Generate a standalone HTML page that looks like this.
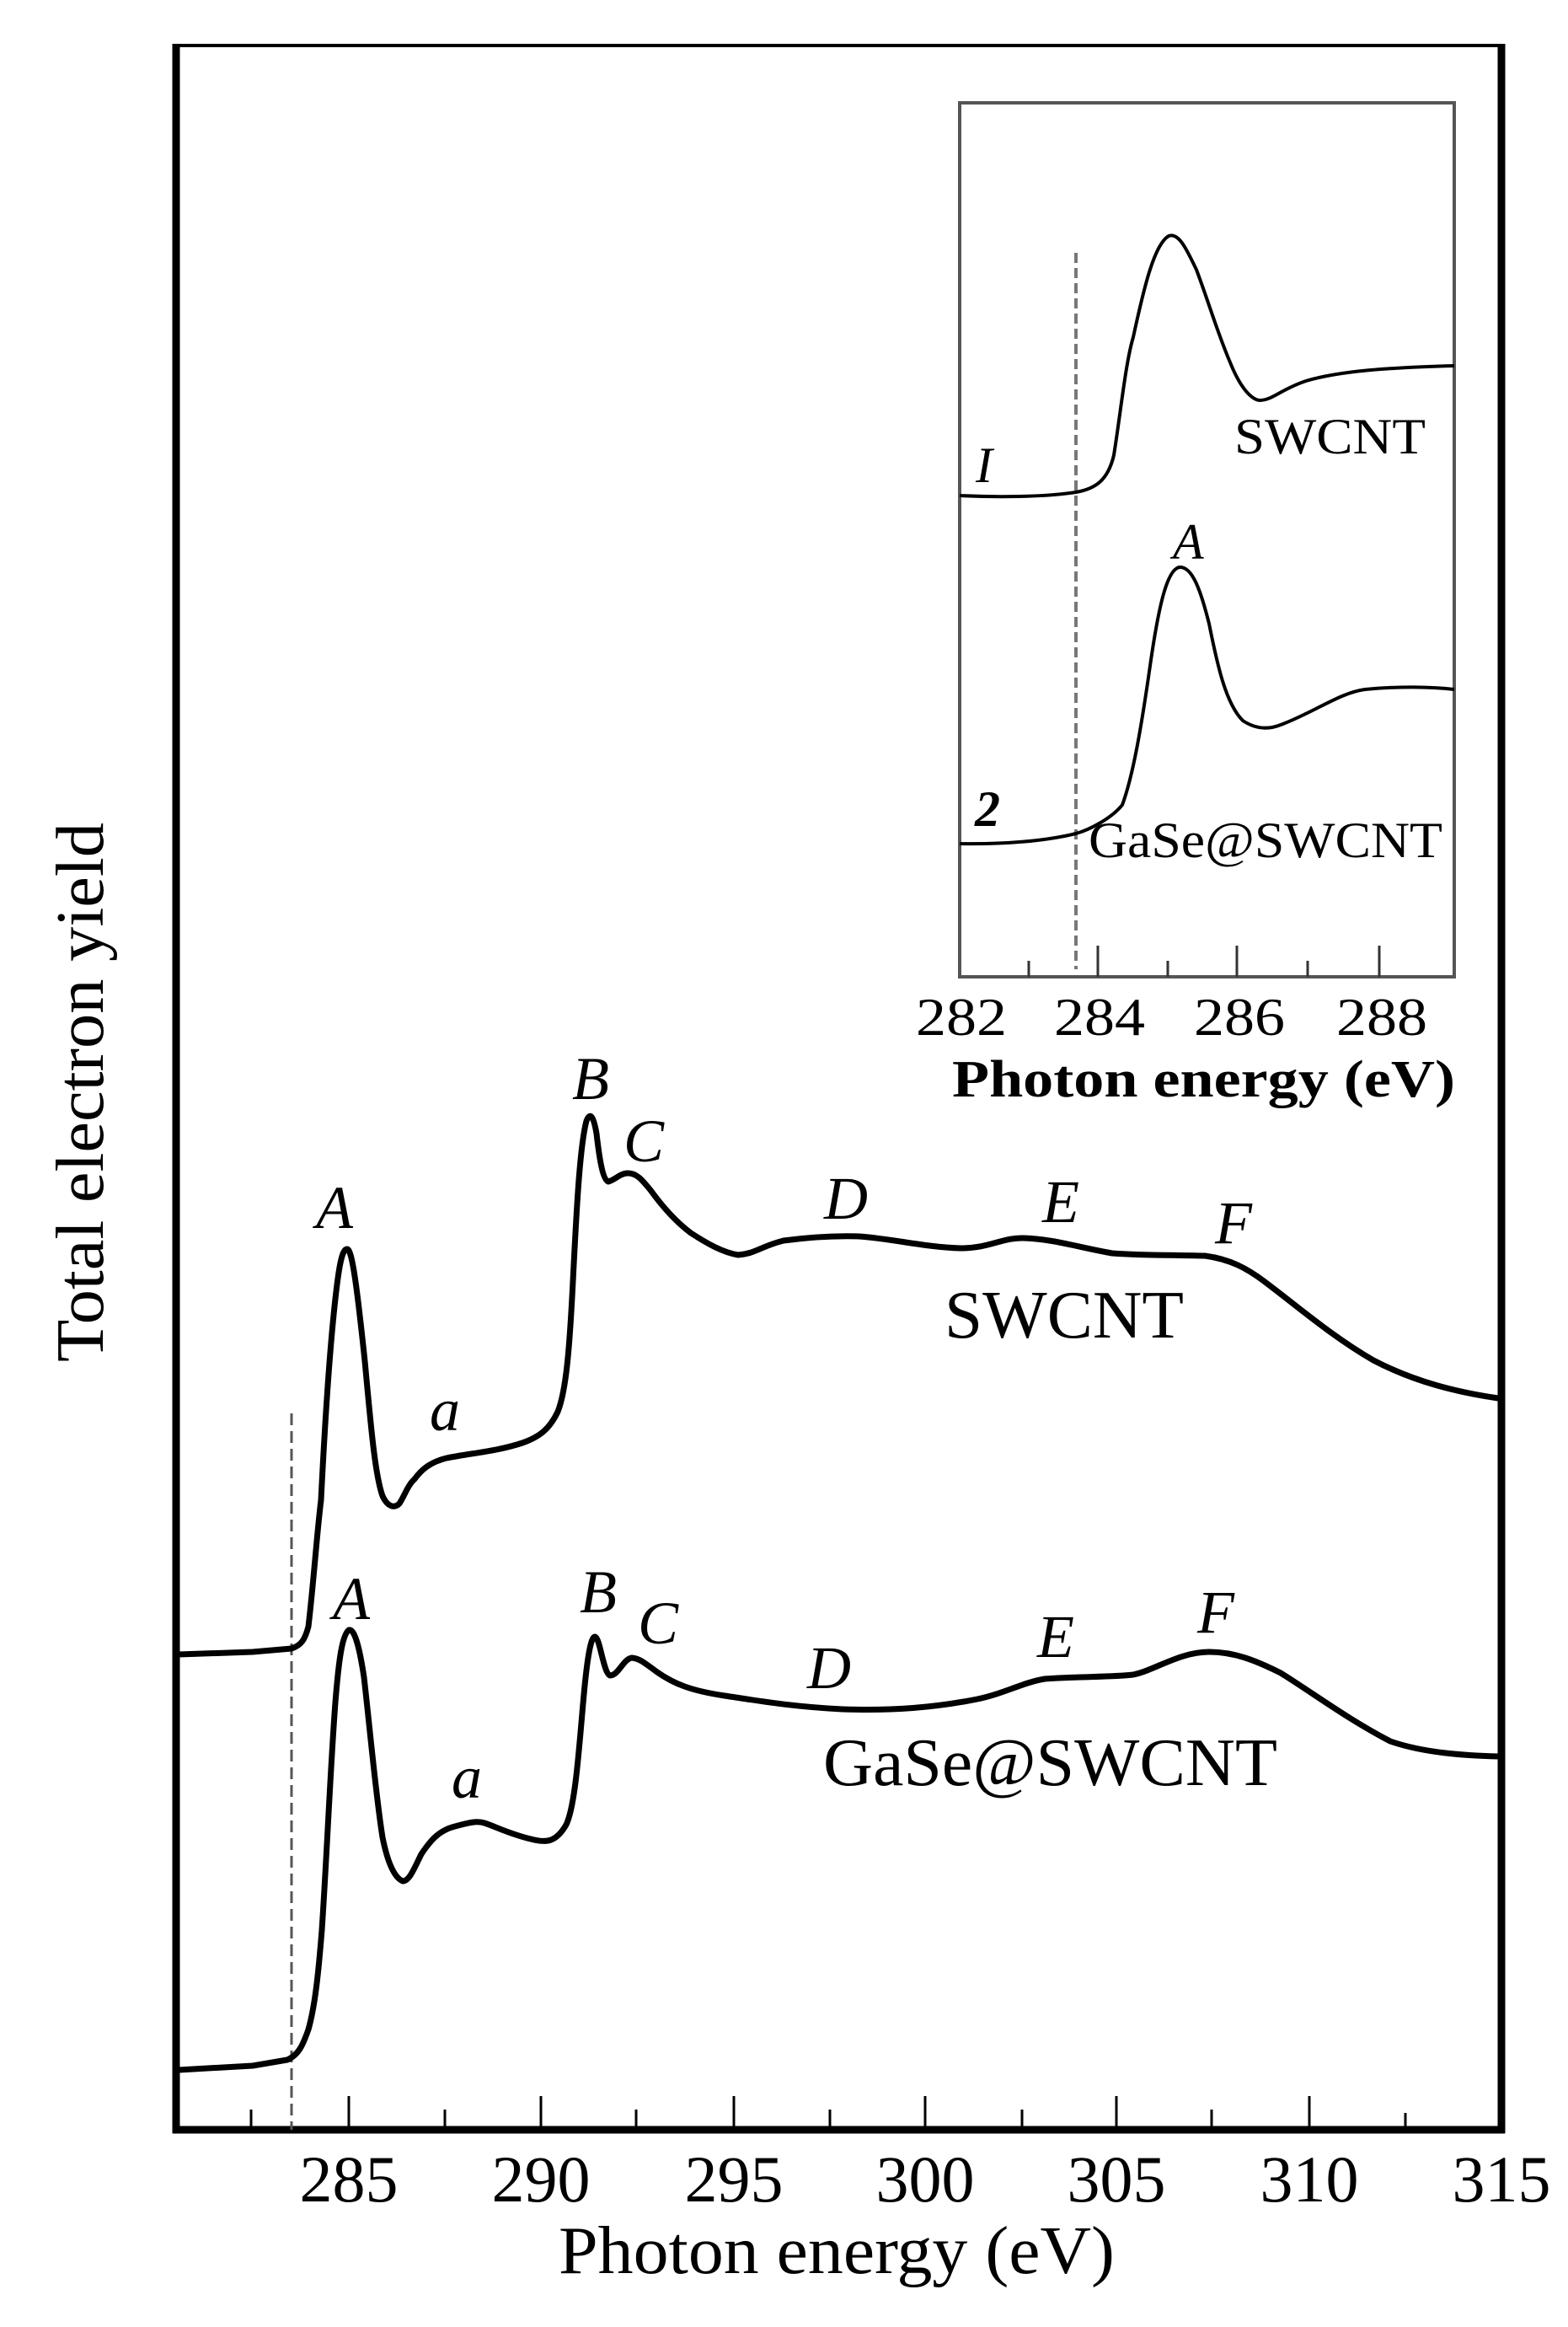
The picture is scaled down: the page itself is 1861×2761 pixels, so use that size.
<!DOCTYPE html>
<html><head><meta charset="utf-8"><style>
html,body{margin:0;padding:0;background:#fff;}
svg{display:block;}
text{font-family:"Liberation Serif",serif;fill:#000;}
</style></head><body>
<svg width="1861" height="2761" viewBox="0 0 1861 2761" xmlns="http://www.w3.org/2000/svg">
<!-- main frame -->
<line x1="209" y1="54" x2="1784" y2="54" stroke="#000" stroke-width="4"/>
<line x1="209" y1="52" x2="209" y2="2531" stroke="#000" stroke-width="9"/>
<line x1="1782" y1="52" x2="1782" y2="2531" stroke="#000" stroke-width="9"/>
<line x1="205" y1="2527" x2="1786" y2="2527" stroke="#000" stroke-width="9"/>
<!-- ticks -->
<g stroke="#000" stroke-width="3">
<line x1="414" y1="2487" x2="414" y2="2527"/><line x1="642" y1="2487" x2="642" y2="2527"/>
<line x1="871" y1="2487" x2="871" y2="2527"/><line x1="1098" y1="2487" x2="1098" y2="2527"/>
<line x1="1325" y1="2487" x2="1325" y2="2527"/><line x1="1554" y1="2487" x2="1554" y2="2527"/>
<line x1="298" y1="2503" x2="298" y2="2527"/><line x1="528" y1="2503" x2="528" y2="2527"/>
<line x1="755" y1="2503" x2="755" y2="2527"/><line x1="985" y1="2503" x2="985" y2="2527"/>
<line x1="1213" y1="2503" x2="1213" y2="2527"/><line x1="1438" y1="2503" x2="1438" y2="2527"/>
<line x1="1668" y1="2507" x2="1668" y2="2527"/>
</g>
<line x1="346" y1="1677" x2="346" y2="2527" stroke="#555" stroke-width="3" stroke-dasharray="14,7"/>
<g font-size="78" text-anchor="middle">
<text x="414" y="2612">285</text><text x="642" y="2612">290</text><text x="871" y="2612">295</text>
<text x="1098" y="2612">300</text><text x="1325" y="2612">305</text><text x="1554" y="2612">310</text>
<text x="1782" y="2612">315</text>
</g>
<text x="993" y="2697" font-size="80" text-anchor="middle" textLength="660" lengthAdjust="spacingAndGlyphs">Photon energy  (eV)</text>
<text transform="translate(122,1296) rotate(-90)" font-size="80" text-anchor="middle" textLength="640" lengthAdjust="spacingAndGlyphs">Total electron yield</text>

<!-- SWCNT main curve -->
<path fill="none" stroke="#000" stroke-width="7" stroke-linejoin="round" stroke-linecap="round" d="M212,1963 L300,1960 L346,1956 C358,1952 362,1945 366,1930 C372,1880 376,1820 381,1780 C385,1700 390,1620 396,1560 C402,1500 406,1482 412,1482 C418,1482 424,1530 433,1615 C440,1690 445,1750 454,1775 C460,1788 468,1790 474,1784 C480,1775 484,1762 492,1755 C500,1744 510,1735 530,1730 C560,1724 590,1722 620,1712 C640,1705 652,1696 662,1675 C672,1650 676,1600 680,1520 C684,1440 688,1360 696,1330 C700,1320 704,1322 708,1345 C712,1380 716,1400 722,1402 C730,1400 736,1392 745,1392 C756,1392 762,1400 772,1412 C785,1430 800,1448 820,1463 C840,1476 858,1486 876,1489 C895,1488 905,1478 930,1472 C960,1468 990,1466 1020,1467 C1060,1470 1100,1480 1140,1481 C1175,1481 1190,1468 1215,1469 C1250,1470 1280,1480 1320,1487 C1360,1490 1400,1489 1430,1490 C1460,1494 1480,1505 1500,1520 C1540,1550 1580,1585 1630,1614 C1680,1640 1730,1652 1778,1659"/>
<!-- GaSe main curve -->
<path fill="none" stroke="#000" stroke-width="7" stroke-linejoin="round" stroke-linecap="round" d="M212,2456 L300,2451 L341,2444 C355,2438 360,2425 366,2408 C374,2380 378,2340 382,2290 C388,2200 392,2100 398,2020 C402,1970 406,1940 414,1934 C420,1932 426,1950 432,1990 C440,2060 446,2130 454,2180 C460,2210 468,2228 478,2232 C486,2232 492,2216 500,2200 C510,2185 520,2172 540,2167 C555,2163 565,2160 575,2163 C590,2168 605,2176 630,2182 C648,2187 660,2186 672,2165 C684,2140 688,2060 694,2000 C698,1960 702,1942 706,1942 C712,1942 716,1985 724,1988 C734,1988 740,1968 750,1967 C760,1968 766,1974 780,1984 C800,1998 820,2006 860,2012 C900,2018 940,2025 1000,2028 C1060,2030 1110,2026 1160,2016 C1190,2010 1215,1996 1240,1992 C1280,1989 1320,1990 1345,1987 C1370,1982 1400,1960 1435,1960 C1465,1960 1490,1970 1520,1985 C1560,2010 1600,2040 1650,2066 C1690,2080 1740,2083 1778,2084"/>
<g font-size="72" font-style="italic">
<text x="375" y="1457">A</text><text x="510" y="1697">a</text><text x="679" y="1304">B</text>
<text x="740" y="1378">C</text><text x="978" y="1446">D</text><text x="1237" y="1450">E</text><text x="1442" y="1475">F</text>
<text x="395" y="1921">A</text><text x="536" y="2133">a</text><text x="688" y="1913">B</text>
<text x="757" y="1950">C</text><text x="958" y="2003">D</text><text x="1231" y="1966">E</text><text x="1421" y="1937">F</text>
</g>
<text x="1121" y="1587" font-size="80" textLength="284" lengthAdjust="spacingAndGlyphs">SWCNT</text>
<text x="977" y="2118" font-size="80" textLength="539" lengthAdjust="spacingAndGlyphs">GaSe@SWCNT</text>

<!-- inset -->
<rect x="1139" y="122" width="587" height="1037" fill="#fff" stroke="#555" stroke-width="4"/>
<g stroke="#333" stroke-width="3">
<line x1="1221" y1="1140" x2="1221" y2="1159"/><line x1="1303" y1="1122" x2="1303" y2="1159"/>
<line x1="1386" y1="1140" x2="1386" y2="1159"/><line x1="1468" y1="1122" x2="1468" y2="1159"/>
<line x1="1552" y1="1140" x2="1552" y2="1159"/><line x1="1637" y1="1122" x2="1637" y2="1159"/>
</g>
<line x1="1277" y1="300" x2="1277" y2="1150" stroke="#777" stroke-width="4" stroke-dasharray="12,6"/>
<path fill="none" stroke="#000" stroke-width="4" d="M1139,588 C1180,590 1240,590 1277,584 C1300,580 1315,570 1322,540 C1330,490 1336,430 1345,400 C1358,340 1370,290 1387,280 C1400,275 1410,300 1420,320 C1435,360 1445,395 1460,430 C1472,460 1485,474 1495,475 C1510,475 1520,462 1550,452 C1590,440 1650,436 1726,434"/>
<path fill="none" stroke="#000" stroke-width="4" d="M1139,1001 C1190,1002 1240,998 1277,989 C1295,984 1320,970 1332,955 C1345,920 1355,860 1365,790 C1375,720 1385,675 1400,673 C1415,672 1425,700 1435,740 C1445,790 1455,835 1475,855 C1490,865 1505,866 1520,860 C1560,845 1590,822 1620,818 C1660,814 1700,815 1726,818"/>
<g font-size="60">
<text x="1158" y="572" font-style="italic">I</text>
<text x="1465" y="538" textLength="227" lengthAdjust="spacingAndGlyphs">SWCNT</text>
<text x="1392" y="663" font-style="italic">A</text>
<text x="1157" y="980" font-style="italic" font-weight="bold">2</text>
<text x="1292" y="1017" textLength="420" lengthAdjust="spacingAndGlyphs">GaSe@SWCNT</text>
</g>
<g font-size="64" text-anchor="middle">
<text x="1141" y="1228" textLength="108" lengthAdjust="spacingAndGlyphs">282</text>
<text x="1305" y="1228" textLength="108" lengthAdjust="spacingAndGlyphs">284</text>
<text x="1471" y="1228" textLength="108" lengthAdjust="spacingAndGlyphs">286</text>
<text x="1640" y="1228" textLength="108" lengthAdjust="spacingAndGlyphs">288</text>
</g>
<text x="1130" y="1301" font-size="62" font-weight="bold" textLength="597" lengthAdjust="spacingAndGlyphs">Photon energy  (eV)</text>
</svg>
</body></html>
